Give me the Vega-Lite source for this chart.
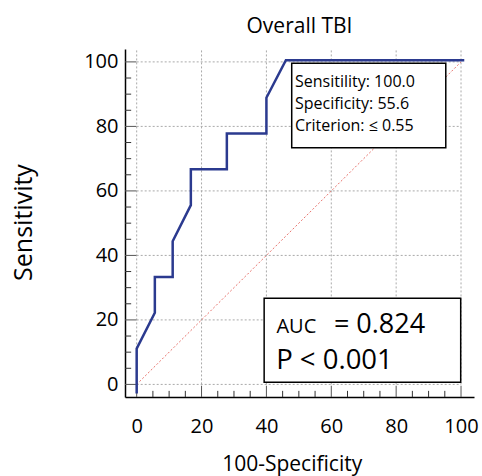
{
  "$schema": "https://vega.github.io/schema/vega-lite/v6.json",
  "width": 349,
  "height": 348,
  "autosize": "none",
  "padding": {"left": 125, "top": 49, "right": 8, "bottom": 79},
  "config": {"font": "Open Sans", "view": {"stroke": null}},
  "title": {"text": "Overall TBI", "fontSize": 21, "fontWeight": "normal", "color": "#000", "offset": 17, "dy": 22, "baseline": "alphabetic", "anchor": "middle"},
  "layer": [
    {
      "data": {"values": [{"g": 0}, {"g": 20}, {"g": 40}, {"g": 60}, {"g": 80}, {"g": 100}]},
      "mark": {"type": "rule", "color": "#aaaaaa", "strokeDash": [2, 2], "strokeWidth": 1},
      "encoding": {
        "x": {"field": "g", "type": "quantitative", "scale": {"domain": [-3.6, 104], "nice": false, "zero": false}},
        "y": {"datum": 0, "type": "quantitative", "scale": {"domain": [-3.9, 104], "nice": false, "zero": false}},
        "y2": {"datum": 104}
      }
    },
    {
      "data": {"values": [{"g": 0}, {"g": 20}, {"g": 40}, {"g": 60}, {"g": 80}, {"g": 100}]},
      "mark": {"type": "rule", "color": "#aaaaaa", "strokeDash": [2, 2], "strokeWidth": 1},
      "encoding": {
        "y": {"field": "g", "type": "quantitative", "scale": {"domain": [-3.9, 104], "nice": false, "zero": false}},
        "x": {"datum": 0, "type": "quantitative", "scale": {"domain": [-3.6, 104], "nice": false, "zero": false}},
        "x2": {"datum": 100}
      }
    },
    {
      "data": {"values": [{"t": 0}, {"t": 20}, {"t": 40}, {"t": 60}, {"t": 80}, {"t": 100}]},
      "mark": {"type": "rule", "color": "#555555", "strokeWidth": 1},
      "encoding": {
        "y": {"field": "t", "type": "quantitative", "scale": {"domain": [-3.9, 104], "nice": false, "zero": false}},
        "x": {"datum": -3.6, "type": "quantitative", "scale": {"domain": [-3.6, 104], "nice": false, "zero": false}},
        "x2": {"datum": -0.1}
      }
    },
    {
      "data": {"values": [{"t": 5}, {"t": 10}, {"t": 15}, {"t": 25}, {"t": 30}, {"t": 35}, {"t": 45}, {"t": 50}, {"t": 55}, {"t": 65}, {"t": 70}, {"t": 75}, {"t": 85}, {"t": 90}, {"t": 95}]},
      "mark": {"type": "rule", "color": "#333333", "strokeWidth": 1},
      "encoding": {
        "y": {"field": "t", "type": "quantitative", "scale": {"domain": [-3.9, 104], "nice": false, "zero": false}},
        "x": {"datum": -3.6, "type": "quantitative", "scale": {"domain": [-3.6, 104], "nice": false, "zero": false}},
        "x2": {"datum": -1.7}
      }
    },
    {
      "data": {"values": [{"t": 0}, {"t": 20}, {"t": 40}, {"t": 60}, {"t": 80}, {"t": 100}]},
      "mark": {"type": "rule", "color": "#555555", "strokeWidth": 1},
      "encoding": {
        "x": {"field": "t", "type": "quantitative", "scale": {"domain": [-3.6, 104], "nice": false, "zero": false}},
        "y": {"datum": -3.9, "type": "quantitative", "scale": {"domain": [-3.9, 104], "nice": false, "zero": false}},
        "y2": {"datum": -0.4}
      }
    },
    {
      "data": {"values": [{"t": 5}, {"t": 10}, {"t": 15}, {"t": 25}, {"t": 30}, {"t": 35}, {"t": 45}, {"t": 50}, {"t": 55}, {"t": 65}, {"t": 70}, {"t": 75}, {"t": 85}, {"t": 90}, {"t": 95}]},
      "mark": {"type": "rule", "color": "#333333", "strokeWidth": 1},
      "encoding": {
        "x": {"field": "t", "type": "quantitative", "scale": {"domain": [-3.6, 104], "nice": false, "zero": false}},
        "y": {"datum": -3.9, "type": "quantitative", "scale": {"domain": [-3.9, 104], "nice": false, "zero": false}},
        "y2": {"datum": -2.0}
      }
    },
    {
      "data": {"values": [{"d": 0}, {"d": 100}]},
      "mark": {"type": "line", "color": "#e8736c", "strokeDash": [2, 2], "strokeWidth": 1},
      "encoding": {
        "x": {"field": "d", "type": "quantitative", "scale": {"domain": [-3.6, 104], "nice": false, "zero": false}},
        "y": {"field": "d", "type": "quantitative", "scale": {"domain": [-3.9, 104], "nice": false, "zero": false}}
      }
    },
    {
      "data": {"values": [{}]},
      "mark": {"type": "rect", "fill": "#fff", "stroke": "#000", "strokeWidth": 1.5},
      "encoding": {
        "x": {"datum": 47.8, "type": "quantitative", "scale": {"domain": [-3.6, 104], "nice": false, "zero": false}},
        "x2": {"datum": 95.3},
        "y": {"datum": 99.6, "type": "quantitative", "scale": {"domain": [-3.9, 104], "nice": false, "zero": false}},
        "y2": {"datum": 73.4}
      }
    },
    {
      "data": {"values": [{}]},
      "mark": {"type": "rect", "fill": "#fff", "stroke": "#000", "strokeWidth": 1.5},
      "encoding": {
        "x": {"datum": 39.3, "type": "quantitative", "scale": {"domain": [-3.6, 104], "nice": false, "zero": false}},
        "x2": {"datum": 99.9},
        "y": {"datum": 26.7, "type": "quantitative", "scale": {"domain": [-3.9, 104], "nice": false, "zero": false}},
        "y2": {"datum": 0.65}
      }
    },
    {
      "data": {"values": [{"label": ["Sensitility: 100.0", "Specificity: 55.6", "Criterion: ≤ 0.55"]}]},
      "mark": {"type": "text", "align": "left", "baseline": "alphabetic", "fontSize": 16, "lineHeight": 21.7, "color": "#000"},
      "encoding": {
        "x": {"datum": 48.8, "type": "quantitative", "scale": {"domain": [-3.6, 104], "nice": false, "zero": false}},
        "y": {"datum": 92.1, "type": "quantitative", "scale": {"domain": [-3.9, 104], "nice": false, "zero": false}},
        "text": {"field": "label"}
      }
    },
    {
      "data": {"values": [{"label": "AUC"}]},
      "mark": {"type": "text", "align": "left", "baseline": "alphabetic", "fontSize": 20, "color": "#000"},
      "encoding": {
        "x": {"datum": 43.1, "type": "quantitative", "scale": {"domain": [-3.6, 104], "nice": false, "zero": false}},
        "y": {"datum": 15.8, "type": "quantitative", "scale": {"domain": [-3.9, 104], "nice": false, "zero": false}},
        "text": {"field": "label"}
      }
    },
    {
      "data": {"values": [{"label": "= 0.824"}]},
      "mark": {"type": "text", "align": "left", "baseline": "alphabetic", "fontSize": 27, "color": "#000"},
      "encoding": {
        "x": {"datum": 60.8, "type": "quantitative", "scale": {"domain": [-3.6, 104], "nice": false, "zero": false}},
        "y": {"datum": 15.8, "type": "quantitative", "scale": {"domain": [-3.9, 104], "nice": false, "zero": false}},
        "text": {"field": "label"}
      }
    },
    {
      "data": {"values": [{"label": "P < 0.001"}]},
      "mark": {"type": "text", "align": "left", "baseline": "alphabetic", "fontSize": 27.5, "color": "#000"},
      "encoding": {
        "x": {"datum": 43.0, "type": "quantitative", "scale": {"domain": [-3.6, 104], "nice": false, "zero": false}},
        "y": {"datum": 4.7, "type": "quantitative", "scale": {"domain": [-3.9, 104], "nice": false, "zero": false}},
        "text": {"field": "label"}
      }
    },
    {
      "data": {"values": [
        {"i": 0, "fpr": 0, "tpr": -2.8},
        {"i": 1, "fpr": 0, "tpr": 11.1},
        {"i": 2, "fpr": 5.6, "tpr": 22.2},
        {"i": 3, "fpr": 5.6, "tpr": 33.3},
        {"i": 4, "fpr": 11.1, "tpr": 33.3},
        {"i": 5, "fpr": 11.1, "tpr": 44.4},
        {"i": 6, "fpr": 16.7, "tpr": 55.6},
        {"i": 7, "fpr": 16.7, "tpr": 66.7},
        {"i": 8, "fpr": 27.8, "tpr": 66.7},
        {"i": 9, "fpr": 27.8, "tpr": 77.8},
        {"i": 10, "fpr": 40, "tpr": 77.8},
        {"i": 11, "fpr": 40, "tpr": 88.9},
        {"i": 12, "fpr": 46, "tpr": 100.5},
        {"i": 13, "fpr": 101, "tpr": 100.5}
      ]},
      "mark": {"type": "line", "color": "#2b3a8f", "strokeWidth": 2.5},
      "encoding": {
        "x": {"field": "fpr", "type": "quantitative", "scale": {"domain": [-3.6, 104], "nice": false, "zero": false},
          "axis": {"title": "100-Specificity", "values": [0, 5, 10, 15, 20, 25, 30, 35, 40, 45, 50, 55, 60, 65, 70, 75, 80, 85, 90, 95, 100],
            "labelExpr": "datum.value % 20 === 0 ? datum.label : ''",
            "tickSize": -11, "tickOpacity": 0,
            "grid": false, "domainColor": "#000", "domainWidth": 1.5,
            "labelFontSize": 20, "labelColor": "#000", "labelPadding": 46, "labelBaseline": "alphabetic", "labelFlush": false, "labelOverlap": false,
            "titleFontSize": 21, "titleFontWeight": "normal", "titleColor": "#000", "titleX": 166.7, "titleY": 73, "titleBaseline": "alphabetic"}},
        "y": {"field": "tpr", "type": "quantitative", "scale": {"domain": [-3.9, 104], "nice": false, "zero": false},
          "axis": {"title": "Sensitivity", "values": [0, 5, 10, 15, 20, 25, 30, 35, 40, 45, 50, 55, 60, 65, 70, 75, 80, 85, 90, 95, 100],
            "labelExpr": "datum.value % 20 === 0 ? datum.label : ''",
            "tickSize": -11, "tickOpacity": 0,
            "grid": false, "domainColor": "#000", "domainWidth": 1.5,
            "labelFontSize": 20, "labelColor": "#000", "labelPadding": 18, "labelBaseline": "middle", "labelFlush": false, "labelOverlap": false,
            "titleFontSize": 25, "titleFontWeight": "normal", "titleColor": "#000", "titleX": -94, "titleY": 173, "titleBaseline": "alphabetic", "titleAngle": 270}},
        "order": {"field": "i"}
      }
    }
  ]
}
